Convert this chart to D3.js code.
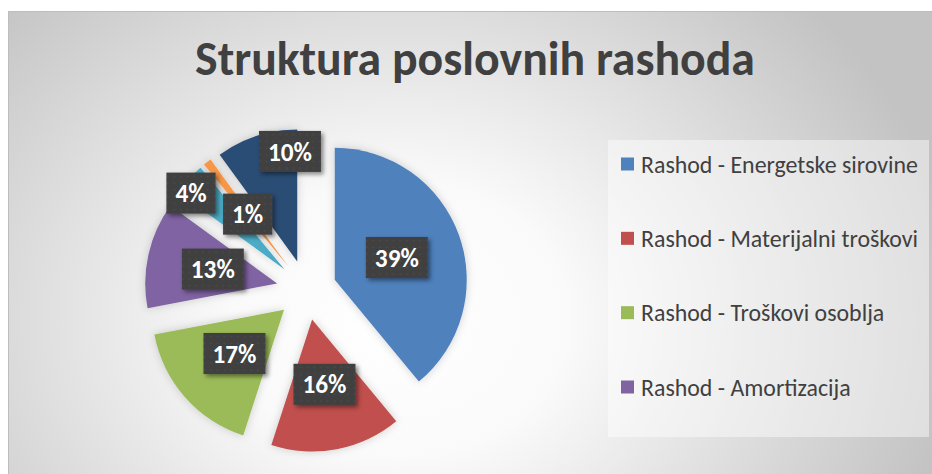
<!DOCTYPE html>
<html>
<head>
<meta charset="utf-8">
<script src="https://cdn.jsdelivr.net/npm/d3@7"></script>
<style>
  html, body { margin: 0; padding: 0; background: #ffffff; }
  svg { display: block; }
</style>
</head>
<body>
<svg id="chart"></svg>
<script>
// --- data ---
const chartTitle = "Struktura poslovnih rashoda";
const shares = [39, 16, 17, 13, 4, 1, 10];           // percent, clockwise from 12 o'clock
const sliceColors = ["#4F81BD", "#C0504D", "#9BBB59", "#8064A2", "#4BACC6", "#F79646", "#2C4D75"];
// only the first four entries fit in the legend box
const legendLabels = [
    "Rashod - Energetske sirovine",
    "Rashod - Materijalni troškovi",
    "Rashod - Troškovi osoblja",
    "Rashod - Amortizacija"
];

// --- layout ---
const width = 932;
const height = 474;
const cx = 306.5, cy = 290;      // pie centre
const radius = 132;
const explode = 30;              // distance each slice is pulled out

// labels Excel moved away from the slice centroid (index -> radius factor, angle shift in deg)
const labelNudge = new Map([
    [4, { k: 0.915, da: -3.2 }],
    [6, { k: 0.83, da: 11.2 }]
]);

const svg = d3.select("#chart")
    .attr("width", width)
    .attr("height", height)
    .attr("viewBox", [0, 0, width, height]);

const defs = svg.append("defs");

// chart area radial fill
const grad = defs.append("radialGradient")
    .attr("id", "bg")
    .attr("gradientUnits", "userSpaceOnUse")
    .attr("cx", 0).attr("cy", 0).attr("r", 1)
    .attr("gradientTransform", "translate(400,320) scale(560,460)");
grad.append("stop").attr("offset", 0).attr("stop-color", "#ffffff");
grad.append("stop").attr("offset", 0.3).attr("stop-color", "#fafafa");
grad.append("stop").attr("offset", 1).attr("stop-color", "#c3c3c3");

// dotted texture for the label boxes
const pat = defs.append("pattern")
    .attr("id", "dots")
    .attr("patternUnits", "userSpaceOnUse")
    .attr("width", 6.7).attr("height", 6.7);
pat.append("rect").attr("width", 6.7).attr("height", 6.7).attr("fill", "#404040");
pat.append("rect").attr("x", 2.6).attr("y", 2.6).attr("width", 1.5).attr("height", 1.5).attr("fill", "#4c4c4c");

const boxShadow = defs.append("filter").attr("id", "boxShadow")
    .attr("x", "-30%").attr("y", "-30%").attr("width", "160%").attr("height", "160%");
boxShadow.append("feDropShadow")
    .attr("dx", 2.5).attr("dy", 2.5).attr("stdDeviation", 2)
    .attr("flood-color", "#000").attr("flood-opacity", 0.45);

const sliceShadow = defs.append("filter").attr("id", "sliceShadow")
    .attr("x", "-30%").attr("y", "-30%").attr("width", "160%").attr("height", "160%");
sliceShadow.append("feDropShadow")
    .attr("dx", 0).attr("dy", 0).attr("stdDeviation", 4)
    .attr("flood-color", "#000").attr("flood-opacity", 0.18);

// chart area frame
svg.append("rect")
    .attr("x", 8.5).attr("y", 11.5)
    .attr("width", 960).attr("height", 500)
    .attr("fill", "url(#bg)")
    .attr("stroke", "#bdbdbd")
    .attr("stroke-width", 1);

// title, sized to the width it takes in the picture
const title = svg.append("text")
    .attr("x", 475)
    .attr("y", 75)
    .attr("text-anchor", "middle")
    .attr("font-family", "Carlito, Calibri, Lato, sans-serif")
    .attr("font-weight", 700)
    .attr("font-size", 42)
    .attr("fill", "#404040")
    .text(chartTitle);
const tw = title.node().getComputedTextLength();
title.attr("font-size", 42 * 560 / tw);

// --- pie ---
const pie = d3.pie().sort(null).value(d => d);
const arcs = pie(shares);
const arc = d3.arc().innerRadius(0).outerRadius(radius);

const mid = d => (d.startAngle + d.endAngle) / 2;

const pieG = svg.append("g").attr("transform", `translate(${cx},${cy})`);

pieG.selectAll("path")
    .data(arcs)
    .join("path")
    .attr("transform", d => `translate(${explode * Math.sin(mid(d))},${-explode * Math.cos(mid(d))})`)
    .attr("d", arc)
    .attr("fill", (d, i) => sliceColors[i])
    .attr("filter", "url(#sliceShadow)");

// data labels
const labelG = pieG.selectAll("g.label")
    .data(arcs)
    .join("g")
    .attr("class", "label")
    .attr("transform", (d, i) => {
        const n = labelNudge.get(i) || { k: 0.5, da: 0 };
        const a = mid(d) + n.da * Math.PI / 180;
        const dist = explode + n.k * radius;
        return `translate(${dist * Math.sin(a)},${-dist * Math.cos(a)})`;
    });

const labelText = labelG.append("text")
    .attr("text-anchor", "middle")
    .attr("dy", "0.36em")
    .attr("font-family", "Carlito, Calibri, Lato, sans-serif")
    .attr("font-weight", 700)
    .attr("font-size", 22)
    .attr("fill", "#ffffff")
    .text(d => d3.format(".0%")(d.value / 100));

// "39%" is about 44px wide in the picture
const l0 = labelText.nodes()[0].getComputedTextLength();
labelText.attr("font-size", 22 * 44 / l0);

labelG.each(function() {
    const g = d3.select(this);
    const t = g.select("text");
    const w = t.node().getComputedTextLength() + 18;
    g.insert("rect", "text")
        .attr("x", -w / 2).attr("y", -20.5)
        .attr("width", w).attr("height", 41)
        .attr("fill", "url(#dots)")
        .attr("filter", "url(#boxShadow)");
});

// --- legend ---
svg.append("rect")
    .attr("x", 608).attr("y", 140)
    .attr("width", 321).attr("height", 297)
    .attr("fill", "#ffffff")
    .attr("fill-opacity", 0.45);

const legendY = d3.scalePoint()
    .domain(legendLabels)
    .range([164, 387]);

const legendItems = svg.append("g")
    .selectAll("g")
    .data(legendLabels)
    .join("g")
    .attr("transform", d => `translate(621,${legendY(d)})`);

legendItems.append("rect")
    .attr("x", 0).attr("y", -6.5)
    .attr("width", 13).attr("height", 13)
    .attr("fill", (d, i) => sliceColors[i]);

const legendText = legendItems.append("text")
    .attr("x", 20)
    .attr("dy", "0.36em")
    .attr("font-family", "Carlito, Calibri, Lato, sans-serif")
    .attr("font-size", 20)
    .attr("fill", "#404040")
    .text(d => d);

// match the first entry's width in the picture
const lw = legendText.nodes()[0].getComputedTextLength();
legendText.attr("font-size", 20 * 277 / lw);
</script>
</body>
</html>
